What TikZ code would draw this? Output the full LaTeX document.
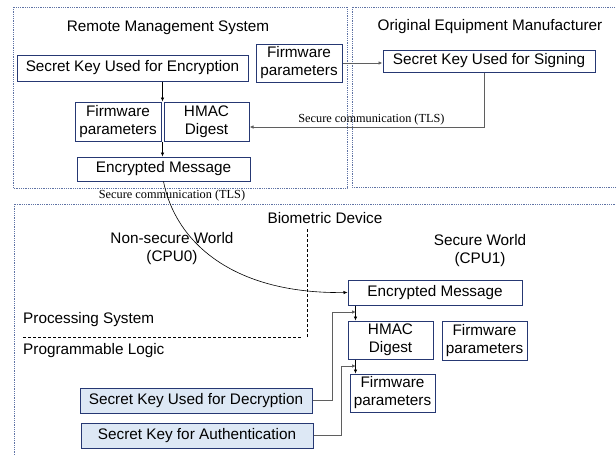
\documentclass[tikz,border=0pt]{standalone}
\usepackage{fontspec}
\setmainfont{Liberation Sans}
\newfontfamily\tlsfont{Liberation Serif}
\usetikzlibrary{calc, arrows.meta}
\definecolor{boxblue}{RGB}{38,56,115}
\definecolor{keyfill}{RGB}{221,232,245}
\definecolor{zoneblue}{RGB}{95,115,165}
\definecolor{linegray}{RGB}{95,95,95}

\begin{document}
\begin{tikzpicture}[x=1pt, y=-1pt,
        every node/.style={font=\fontsize{15.3}{18}\selectfont},
        box/.style={draw=boxblue, line width=1pt, fill=white, inner sep=0pt, align=center},
        keybox/.style={box, fill=keyfill},
        zone/.style={draw=zoneblue, densely dotted, line width=0.8pt},
        tls/.style={font=\tlsfont\fontsize{12.3}{14}\selectfont},
        arr/.style={-{Latex[length=4pt,width=3.5pt]}, line width=0.6pt},
        grayarr/.style={arr, draw=linegray, line width=1pt}]
        \clip (0,0) rectangle (616,455);

        % Zones
        \draw[zone] (13,7) rectangle (347,188);
        \draw[zone] (352,7) rectangle (630,187);
        \draw[zone] (14,204) rectangle (630,470);
        \draw[densely dashed] (307,229) -- (307,338);
        \draw[densely dashed] (23,337) -- (302,337);

        % Titles
        \node (rmstitle) at (168,28) {Remote Management System};
        \node (oemtitle) at (490,27) {Original Equipment Manufacturer};
        \node (biotitle) at (325,218) {Biometric Device};
        \node[align=center] (nsworld) at (172,249) {Non-secure World\\(CPU0)};
        \node[align=center] (sworld) at (480,251) {Secure World\\(CPU1)};
        \node[anchor=west, inner sep=0pt] (procsys) at (23,320) {Processing System};
        \node[anchor=west, inner sep=0pt] (proglogic) at (23,351) {Programmable Logic};

        % Nodes
        \node[box, minimum width=231pt, minimum height=26pt] (enckey) at (132.5,68) {Secret Key Used for Encryption};
        \node[box, minimum width=86pt, minimum height=38pt] (fwtop) at (299,63) {Firmware\\parameters};
        \node[box, minimum width=212pt, minimum height=22pt] (signkey) at (489,61) {Secret Key Used for Signing};
        \node[box, minimum width=86pt, minimum height=39pt] (fwmid) at (118,121.5) {Firmware\\parameters};
        \node[box, minimum width=85pt, minimum height=39pt] (hmac) at (206.5,121.5) {HMAC\\Digest};
        \node[box, minimum width=173pt, minimum height=24pt] (encmsg) at (163.5,169) {Encrypted Message};
        \node[box, minimum width=174pt, minimum height=25pt] (sencmsg) at (435,292.5) {Encrypted Message};
        \node[box, minimum width=85pt, minimum height=38pt] (shmac) at (390.5,340) {HMAC\\Digest};
        \node[box, minimum width=85pt, minimum height=39pt] (sfwright) at (484.5,340.5) {Firmware\\parameters};
        \node[box, minimum width=85pt, minimum height=38pt] (sfwbot) at (392.5,393) {Firmware\\parameters};
        \node[keybox, minimum width=232pt, minimum height=25pt] (deckey) at (196,400.5) {Secret Key Used for Decryption};
        \node[keybox, minimum width=232pt, minimum height=25pt] (authkey) at (197,435.5) {Secret Key for Authentication};

        % Arrows
        \coordinate (split) at ($(fwmid.north east)!.5!(hmac.north west)$);
        \coordinate (merge) at ($(fwmid.south east)!.5!(hmac.south west)$);
        \draw[arr] (enckey.south -| split) -- (split);
        \draw[arr] (merge) -- (merge |- encmsg.north);
        \draw[grayarr] (fwtop.east) -- (fwtop.east -| signkey.west);
        \draw[grayarr] ([xshift=-5pt]signkey.south) |- ([yshift=-5.5pt]hmac.east)
            node[tls, pos=0.74, above, inner sep=1pt] {Secure communication (TLS)};
        \draw[arr] (encmsg.south) .. controls (175,240) and (230,294) .. (sencmsg.west);
        \node[tls] (tlsbio) at (172,196) {Secure communication (TLS)};

        \coordinate (decin) at (356,312);
        \coordinate (authin) at (356,366);
        \draw[arr] ([xshift=8pt]sencmsg.south west) -- ([xshift=8pt]shmac.north west);
        \draw[arr] ([xshift=8pt]shmac.south west) -- ([xshift=8pt]shmac.south west |- sfwbot.north);
        \draw[grayarr] (deckey.east) -- ++(20,0) |- (decin);
        \draw[grayarr] (authkey.east) -- ++(28,0) |- (authin);
    \end{tikzpicture}
\end{document}
